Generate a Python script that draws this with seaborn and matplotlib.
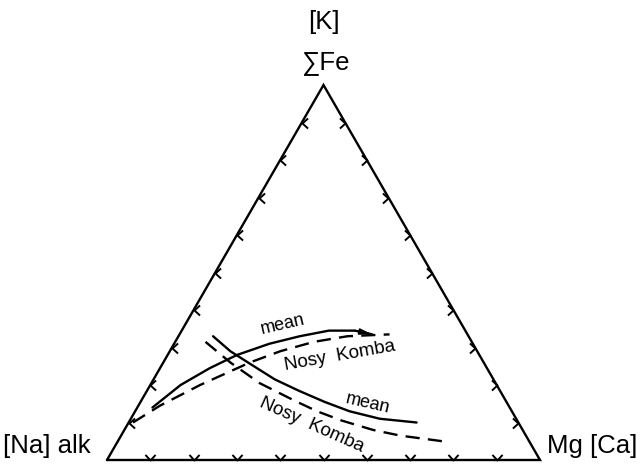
import numpy as np
import matplotlib
matplotlib.use("Agg")
import matplotlib.pyplot as plt
from matplotlib.path import Path
import seaborn as sns
import pandas as pd

sns.set_theme(style="white")
plt.rcParams["font.family"] = ["Liberation Sans", "DejaVu Sans"]
plt.rcParams["text.color"] = "black"

# Ternary compositions (percent): alkalis, total Fe, Mg
mean_upper_alk = [82.5, 73, 64, 56, 47, 39, 31.5, 25.5, 22]
mean_upper_fe = [14, 20, 24.5, 28, 31, 33, 34.5, 34.5, 33.5]
mean_upper_mg = [3.5, 7, 11.5, 16, 22, 28, 34, 40, 44.5]

nk_upper_alk = [89, 80.5, 68.5, 54, 45.5, 36.5, 28, 18]
nk_upper_fe = [10, 14.5, 20, 26, 29, 31.5, 33, 33.5]
nk_upper_mg = [1, 5, 11.5, 20, 25.5, 32, 39, 48.5]

mean_lower_alk = [59, 57, 54, 50.5, 46.5, 42, 37.5, 31.5, 23.5]
mean_lower_fe = [33, 29, 25.5, 21.5, 18.5, 15.5, 13, 11, 10]
mean_lower_mg = [8, 14, 20.5, 28, 35, 42.5, 49.5, 57.5, 66.5]

nk_lower_alk = [61.5, 58.5, 54.5, 49, 45, 40.5, 34.5, 29, 20]
nk_lower_fe = [31.5, 26, 20.5, 16, 13, 10.5, 8, 6.5, 5]
nk_lower_mg = [7, 15.5, 25, 35, 42, 49, 57.5, 64.5, 75]

tick_fractions = [0.1, 0.2, 0.3, 0.4, 0.5, 0.6, 0.7, 0.8, 0.9]

H = np.sqrt(3) / 2


def to_xy(alk, fe, mg):
    a, f, m = (np.asarray(v, float) for v in (alk, fe, mg))
    tot = a + f + m
    f, m = f / tot, m / tot
    return m + f / 2, f * H


def px(x, y):
    # figure pixel position -> triangle data coordinates
    return (x - 107) / 433.0, (460 - y) / 433.0


fig = plt.figure(figsize=(6.4, 4.66), dpi=100)
ax = fig.add_axes([0, 0, 1, 1])
x0, y0 = px(0, 466)
x1, y1 = px(640, 0)
ax.set_xlim(x0, x1)
ax.set_ylim(y0, y1)
ax.axis("off")

# triangle frame
ax.plot([0, 1, 0.5, 0], [0, 0, H, 0], color="black", lw=1.7,
        solid_joinstyle="miter", zorder=3)

# chevron tick marks along the three sides
def chevron(vs):
    return Path(vs, [Path.MOVETO, Path.LINETO, Path.LINETO])

down = chevron([(-1, 1.1), (0, 0), (1, 1.1)])
left = chevron([(1.1, 1), (0, 0), (1.1, -1)])
right = chevron([(-1.1, 1), (0, 0), (-1.1, -1)])
t = np.array(tick_fractions)
mk = dict(ls="none", ms=8, mew=1.4, mfc="none", mec="black", zorder=3)
ax.plot(t, np.zeros_like(t), marker=down, **mk)
ax.plot(t / 2, t * H, marker=left, **mk)
ax.plot(1 - t / 2, t * H, marker=right, **mk)

# composition trends
dash = (0, (6, 3.5))
curves = [
    (mean_upper_alk, mean_upper_fe, mean_upper_mg, "-"),
    (nk_upper_alk, nk_upper_fe, nk_upper_mg, dash),
    (mean_lower_alk, mean_lower_fe, mean_lower_mg, "-"),
    (nk_lower_alk, nk_lower_fe, nk_lower_mg, dash),
]
for a, f, m, ls in curves:
    cx, cy = to_xy(a, f, m)
    df = pd.DataFrame({"x": cx, "y": cy})
    sns.lineplot(data=df, x="x", y="y", sort=False, estimator=None,
                 color="black", lw=1.7, linestyle=ls, ax=ax)

# pointed end of the upper mean trend
ux, uy = to_xy(mean_upper_alk, mean_upper_fe, mean_upper_mg)
ax.annotate("", xy=(ux[-1], uy[-1]), xytext=(ux[-2], uy[-2]),
            arrowprops=dict(arrowstyle="-|>,head_length=0.6,head_width=0.15",
                            color="black", lw=1.2, shrinkA=0, shrinkB=0))

ax.set_xlabel("")
ax.set_ylabel("")

# curve labels
def label(x, y, s, rot, size):
    ax.text(*px(x, y), s, rotation=rot, rotation_mode="anchor",
            ha="center", va="center", fontsize=size, color="black")

label(283, 325, "mean", 13, 13)
label(340, 356, "Nosy  Komba", 10, 13.5)
label(368, 404, "mean", -13, 13)
label(312, 425, "Nosy  Komba", -24, 13.5)

# vertex labels
vk = dict(fontsize=18.5, color="black", va="center")
ax.text(*px(324, 22), "[K]", ha="center", **vk)
ax.text(*px(325, 63), "\u2211Fe", ha="center", **vk)
ax.text(*px(3, 446), "[Na] alk", ha="left", **vk)
ax.text(*px(637, 446), "Mg [Ca]", ha="right", **vk)

fig.savefig("out.png", dpi=100)
